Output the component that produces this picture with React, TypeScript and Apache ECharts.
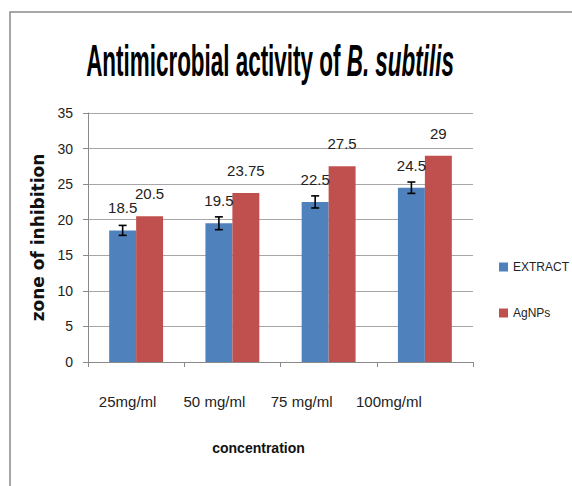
import React, { useEffect, useRef } from "react";
import * as echarts from "echarts";

const CATEGORIES = ["25mg/ml", "50 mg/ml", "75 mg/ml", "100mg/ml"];
const EXTRACT = [18.5, 19.5, 22.5, 24.5];
const EXTRACT_ERR = [0.7, 0.9, 0.85, 0.8];
const AGNPS = [20.5, 23.75, 27.5, 29];
const Y_TICKS_MAX = 35;
const Y_INTERVAL = 5;

const FONT = "'Liberation Sans', Arial, sans-serif";
const BAR_RATIO = 0.28;

export default function App() {
  const ref = useRef<HTMLDivElement>(null);
  useEffect(() => {
    if (!ref.current) return;
    const chart = echarts.init(ref.current, null, { renderer: "svg" });
    const labelOffsets = [17, 36, 54, 72];
    const rich: Record<string, any> = {};
    labelOffsets.forEach((p, i) => {
      rich["c" + i] = { fontFamily: FONT, fontSize: 15, color: "#222", padding: [0, p, 0, 0] };
    });
    chart.setOption({
      animation: false,
      backgroundColor: "#fff",
      graphic: [
        {
          type: "rect",
          shape: { x: 10, y: 12, width: 620, height: 520 },
          style: { fill: "none", stroke: "#8a8a8a", lineWidth: 1.5 },
          silent: true,
        },
        {
          type: "text",
          x: 270,
          y: 60,
          scaleX: 0.51,
          style: {
            text: "{a|Antimicrobial activity of }{b|B. subtilis}",
            align: "center",
            verticalAlign: "middle",
            rich: {
              a: { fontFamily: FONT, fontWeight: "bold", fontSize: 44, fill: "#000" },
              b: { fontFamily: FONT, fontWeight: "bold", fontStyle: "italic", fontSize: 44, fill: "#000" },
            },
          },
        },
      ],
      legend: {
        orient: "vertical",
        left: 494,
        top: 256,
        itemWidth: 9,
        itemHeight: 9,
        itemGap: 34,
        icon: "rect",
        data: ["EXTRACT", "AgNPs"],
        textStyle: { fontFamily: FONT, fontSize: 12, color: "#222" },
      },
      grid: { left: 88, right: 99, top: 113, bottom: 124 },
      xAxis: {
        type: "category",
        data: CATEGORIES,
        name: "concentration",
        nameLocation: "middle",
        nameGap: 79,
        nameTextStyle: {
          fontFamily: FONT,
          fontSize: 14,
          fontWeight: "bold",
          color: "#111",
          padding: [0, 44, 0, 0],
        },
        axisLine: { lineStyle: { color: "#8a8a8a", width: 1 } },
        axisTick: { show: true, length: 5, lineStyle: { color: "#8a8a8a" } },
        axisLabel: {
          interval: 0,
          margin: 32,
          formatter: (v: string, i: number) => `{c${i}|${v}}`,
          rich,
        },
      },
      yAxis: {
        type: "value",
        min: 0,
        max: Y_TICKS_MAX,
        interval: Y_INTERVAL,
        name: "zone of inhibition",
        nameLocation: "middle",
        nameGap: 36,
        nameTextStyle: {
          fontFamily: "'DejaVu Sans', sans-serif",
          fontSize: 17,
          fontWeight: "bold",
          color: "#111",
        },
        axisLine: { show: true, lineStyle: { color: "#8a8a8a", width: 1 } },
        axisTick: { show: true, length: 5, lineStyle: { color: "#8a8a8a" } },
        splitLine: { lineStyle: { color: "#a6a6a6", width: 1 } },
        axisLabel: { margin: 15, fontFamily: FONT, fontSize: 14, color: "#222" },
      },
      series: [
        {
          name: "EXTRACT",
          type: "bar",
          data: EXTRACT,
          barWidth: BAR_RATIO * 100 + "%",
          barGap: "0%",
          itemStyle: { color: "#4f81bd" },
          label: {
            show: true,
            position: "top",
            distance: 15,
            fontFamily: FONT,
            fontSize: 15,
            color: "#222",
          },
        },
        {
          name: "AgNPs",
          type: "bar",
          data: AGNPS,
          barWidth: BAR_RATIO * 100 + "%",
          barGap: "0%",
          itemStyle: { color: "#c0504d" },
          label: {
            show: true,
            position: "top",
            distance: 15,
            fontFamily: FONT,
            fontSize: 15,
            color: "#222",
          },
        },
        {
          name: "EXTRACT error",
          type: "custom",
          z: 10,
          data: EXTRACT.map((v, i) => [i, v, EXTRACT_ERR[i]]),
          encode: { x: 0, y: 1 },
          renderItem: (params: any, api: any) => {
            const idx = api.value(0);
            const val = api.value(1);
            const err = api.value(2);
            const band = api.size([1, 0])[0];
            const off = (-band * BAR_RATIO) / 2;
            const top = api.coord([idx, val + err]);
            const bot = api.coord([idx, val - err]);
            const x = top[0] + off;
            const cap = 4;
            const st = { stroke: "#000", lineWidth: 1.6 };
            return {
              type: "group",
              children: [
                { type: "line", shape: { x1: x, y1: top[1], x2: x, y2: bot[1] }, style: st },
                { type: "line", shape: { x1: x - cap, y1: top[1], x2: x + cap, y2: top[1] }, style: st },
                { type: "line", shape: { x1: x - cap, y1: bot[1], x2: x + cap, y2: bot[1] }, style: st },
              ],
            };
          },
        },
      ],
    });
    return () => chart.dispose();
  }, []);
  return (
    <div
      ref={ref}
      style={{ position: "fixed", left: 0, top: 0, width: 572, height: 486 }}
    />
  );
}
